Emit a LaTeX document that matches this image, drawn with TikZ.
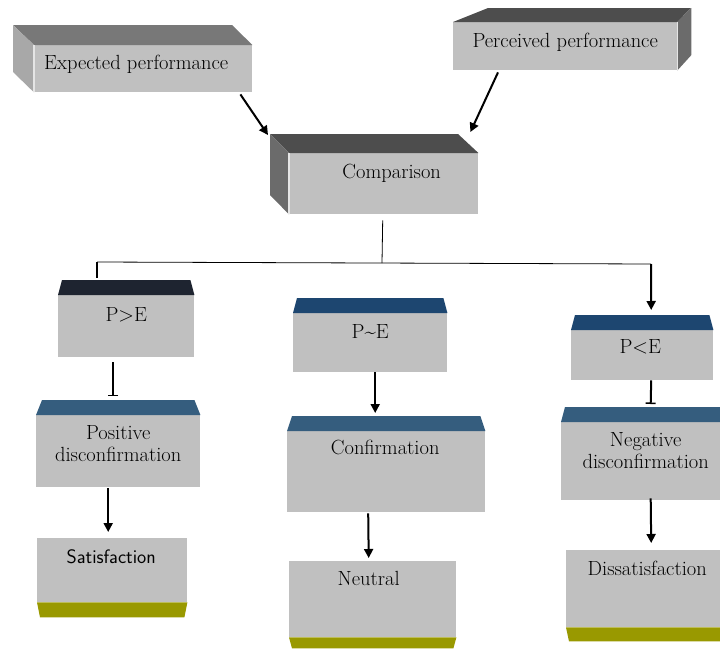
\documentclass[tikz,border=0pt]{standalone}
\usepackage{tikz}
\usetikzlibrary{arrows.meta,positioning,calc}

\definecolor{facegray}{HTML}{C0C0C0}
\definecolor{toplight}{HTML}{787878}
\definecolor{sidelight}{HTML}{A8A8A8}
\definecolor{topdark}{HTML}{4D4D4D}
\definecolor{sidedark}{HTML}{6B6B6B}
\definecolor{bandnavy}{HTML}{1E2430}
\definecolor{banddeep}{HTML}{1D4670}
\definecolor{bandsteel}{HTML}{355D7E}
\definecolor{bandolive}{HTML}{999900}

\begin{document}
\begin{tikzpicture}[
  x=1pt, y=-1pt,
  face/.style={rectangle, fill=facegray, anchor=north west, inner sep=0pt},
  lbl/.style={font=\fontsize{20.5}{22}\selectfont, inner sep=0pt,
              anchor=base, align=center},
  arr/.style={-{Triangle[length=9pt,width=9pt]}, line width=2pt},
  barr/.style={-{Bar[width=10pt,line width=1.5pt]}, line width=2pt},
  link/.style={line width=0.8pt},
  edge/.style={white!80!gray, line width=1.5pt}
]
\useasboundingbox (0,0) rectangle (720,648);

% top row: 3D boxes
\node[face, minimum width=218pt, minimum height=47pt] (exp) at (34,45) {};
\node[face, minimum width=224pt, minimum height=48pt] (per) at (453,22) {};
\node[face, minimum width=189pt, minimum height=61pt] (cmp) at (289,153) {};

\fill[toplight] (exp.north west) -- ++(-21,-20) -- ++(219,0) -- (exp.north east) -- cycle;
\fill[sidelight] (exp.north west) -- ++(-21,-20) -- ++(0,47) -- (exp.south west) -- cycle;
\draw[edge] (exp.north west) -- (exp.south west);

\fill[topdark] (per.north west) -- ++(35,-14) -- ++(203,0) -- (per.north east) -- cycle;
\fill[sidedark] (per.north east) -- ++(14,-14) -- ++(0,47) -- (per.south east) -- cycle;
\draw[edge] (per.north east) -- (per.south east);

\fill[topdark] (cmp.north west) -- ++(-19,-19) -- ++(188,0) -- (cmp.north east) -- cycle;
\fill[sidedark] (cmp.north west) -- ++(-19,-19) -- ++(0,61) -- (cmp.south west) -- cycle;
\draw[edge] (cmp.north west) -- (cmp.south west);

\node[lbl] (exp-t) at ($(exp.north)+(-7,24)$) {Expected performance};
\node[lbl] (per-t) at ($(per.north)+(0,25)$) {Perceived performance};
\node[lbl] (cmp-t) at ($(cmp.north)+(8,25)$) {Comparison};

% three outcome columns
\node[face, minimum width=136pt, minimum height=62pt] (pgt) at (58,295) {};
\node[face, minimum width=154pt, minimum height=59pt] (peq) at (293,313) {};
\node[face, minimum width=142pt, minimum height=50pt] (plt) at (571,330) {};
\node[face, minimum width=164pt, minimum height=72pt] (pos) at (36,415) {};
\node[face, minimum width=198pt, minimum height=81pt] (con) at (287,431) {};
\node[face, minimum width=159pt, minimum height=78pt] (neg) at (561,422) {};
\node[face, minimum width=150pt, minimum height=64pt] (sat) at (37,538) {};
\node[face, minimum width=167pt, minimum height=76pt] (neu) at (289,561) {};
\node[face, minimum width=154pt, minimum height=77pt] (dis) at (566,550) {};

\fill[bandnavy] (pgt.north west) -- ++(4,-15) -- ($(pgt.north east)+(-4,-15)$) -- (pgt.north east) -- cycle;
\fill[banddeep] (peq.north west) -- ++(4,-15) -- ($(peq.north east)+(-4,-15)$) -- (peq.north east) -- cycle;
\fill[banddeep] (plt.north west) -- ++(4,-15) -- ($(plt.north east)+(-4,-15)$) -- (plt.north east) -- cycle;
\fill[bandsteel] (pos.north west) -- ++(6,-15) -- ($(pos.north east)+(-6,-15)$) -- (pos.north east) -- cycle;
\fill[bandsteel] (con.north west) -- ++(5,-15) -- ($(con.north east)+(-5,-15)$) -- (con.north east) -- cycle;
\fill[bandsteel] (neg.north west) -- ++(4,-15) -- ($(neg.north east)+(0,-15)$) -- (neg.north east) -- cycle;
\fill[bandolive] (sat.south west) -- ++(3,15) -- ($(sat.south east)+(-3,15)$) -- (sat.south east) -- cycle;
\fill[bandolive] (neu.south west) -- ++(3,11) -- ($(neu.south east)+(-3,11)$) -- (neu.south east) -- cycle;
\fill[bandolive] (dis.south west) -- ++(3,14) -- ($(dis.south east)+(0,14)$) -- (dis.south east) -- cycle;

\node[lbl] (pgt-t) at ($(pgt.north)+(0,26)$) {P>E};
\node[lbl] (peq-t) at ($(peq.north)+(0,25)$) {P\char"7E E};
\node[lbl] (plt-t) at ($(plt.north)+(-2,23)$) {P<E};
\node[lbl] (pos-t) at ($(pos.north)+(0,46)$) {Positive\\disconfirmation};
\node[lbl] (con-t) at ($(con.north)+(-1,23)$) {Confirmation};
\node[lbl] (neg-t) at ($(neg.north)+(5,46)$) {Negative\\disconfirmation};
\node[lbl, font=\fontsize{19.5}{22}\sffamily] (sat-t) at ($(sat.north)+(-1,25)$) {Satisfaction};
\node[lbl] (neu-t) at ($(neu.north)+(-4,24)$) {Neutral};
\node[lbl] (dis-t) at ($(dis.north)+(4,25)$) {Dissatisfaction};

% connectors
\coordinate (split) at (382,263);
\coordinate (lft) at (97,262);
\coordinate (rgt) at (651,264);

\draw[arr] ($(exp.south east)+(-12,2)$) -- ($(cmp.north west)+(-21,-18)$);
\draw[arr] ($(per.south west)+(45,2)$) -- ($(cmp.north east)+(-8,-21)$);
\draw[link] ($(cmp.south)+(-1,6)$) -- (split);
\draw[link] (lft) -- (rgt);
\draw[line width=2pt] (lft) -- ++(0,16);
\draw[arr] (rgt) -- ($(plt.north)+(9,-20)$);

\draw[barr] ($(pgt.south)+(-13,5)$) -- ($(pos.north)+(-5,-19)$);
\draw[arr] ($(pos.south)+(-10,1)$) -- ($(sat.north)+(-4,-6)$);
\draw[arr] ($(peq.south)+(5,0)$) -- ($(con.north)+(-11,-18)$);
\draw[arr] ($(con.south)+(-18,1)$) -- ($(neu.north)+(-4,-3)$);
\draw[barr] ($(plt.south)+(9,0)$) -- ($(neg.north)+(10,-18)$);
\draw[arr] ($(neg.south)+(10,-2)$) -- ($(dis.north)+(8,-7)$);
\end{tikzpicture}
\end{document}
